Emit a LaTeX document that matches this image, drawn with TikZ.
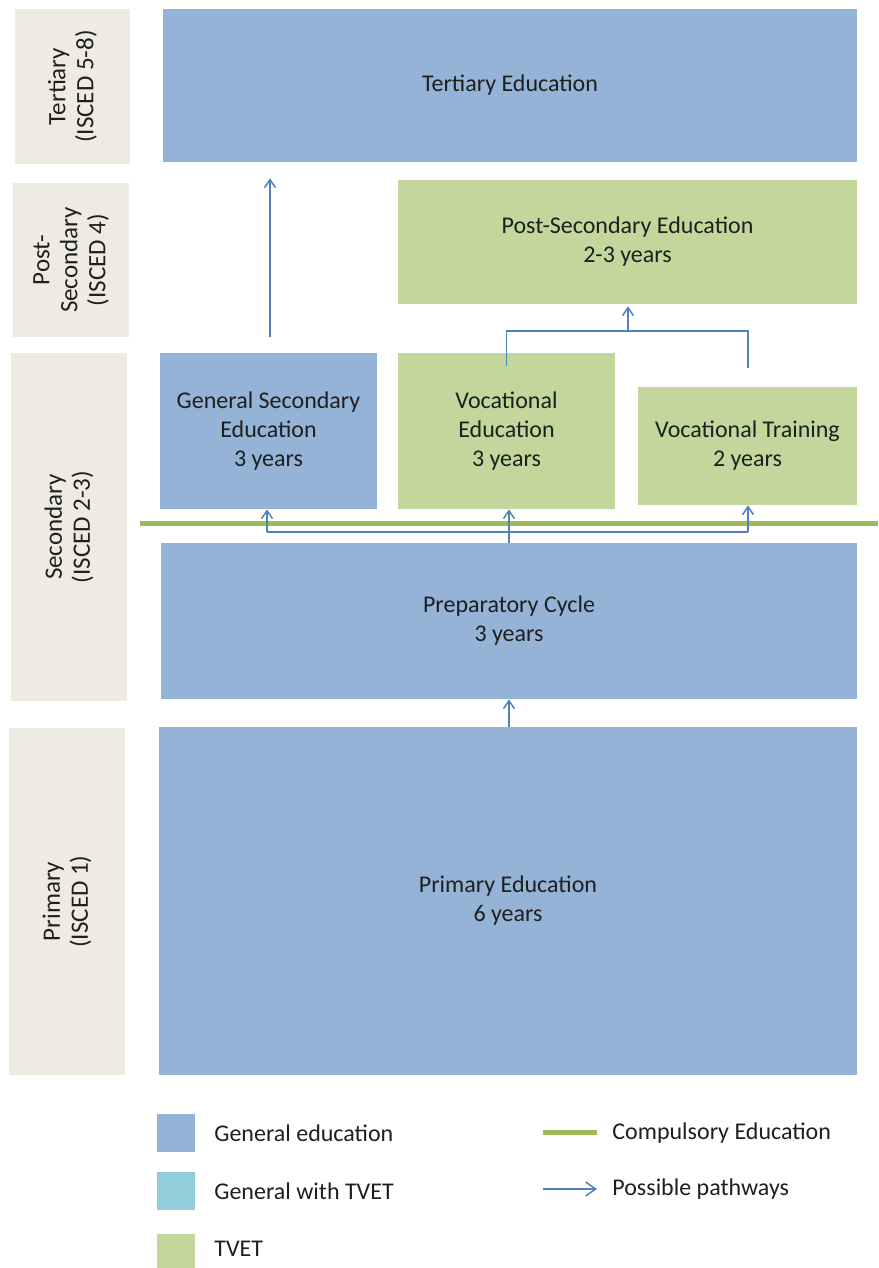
\documentclass[tikz,border=0pt]{standalone}
\usepackage{fontspec}
\setmainfont{Carlito}
\usetikzlibrary{arrows.meta}
\definecolor{genblue}{HTML}{95B3D7}
\definecolor{tvetgreen}{HTML}{C3D69B}
\definecolor{gtvet}{HTML}{92CDDC}
\definecolor{beige}{HTML}{EEECE1}
\definecolor{compgreen}{HTML}{9BBB59}
\definecolor{arrblue}{HTML}{4F81BD}
\definecolor{txt}{HTML}{1F1F1F}
\tikzset{
  box/.style={draw=none, inner sep=0pt, align=center, text=txt, font=\fontsize{12}{14.5}\selectfont},
  levelbox/.style={box, fill=beige},
  lvltxt/.style={box, rotate=90, font=\fontsize{12.5}{14}\selectfont},
  genbox/.style={box, fill=genblue},
  tvetbox/.style={box, fill=tvetgreen},
  arr/.style={draw=arrblue, line width=0.75pt, -{Straight Barb[length=4pt,width=5.5pt,line width=0.75pt]}},
  pline/.style={draw=arrblue, line width=0.75pt},
  legtxt/.style={anchor=west, inner sep=0pt, text=txt, font=\fontsize{12}{14}\selectfont},
}
\begin{document}
\begin{tikzpicture}[x=0.5pt,y=-0.5pt]
\useasboundingbox (0,0) rectangle (878,1268);
% level labels
\node[levelbox, minimum width=57.5pt, minimum height=77.5pt] (lt) at (72.5,86.5) {};
\node[lvltxt] (ltt) at (lt) {Tertiary\\(ISCED 5-8)};
\node[levelbox, minimum width=58pt, minimum height=77pt] (lp) at (71,260) {};
\node[lvltxt] (lpt) at (lp) {Post-\\Secondary\\(ISCED 4)};
\node[levelbox, minimum width=58pt, minimum height=174pt] (ls) at (69,527) {};
\node[lvltxt] (lst) at (ls) {Secondary\\(ISCED 2-3)};
\node[levelbox, minimum width=58pt, minimum height=173.5pt] (lpr) at (67,901.5) {};
\node[lvltxt] (lprt) at (lpr) {Primary\\(ISCED 1)};
% main boxes
\node[genbox, minimum width=347pt, minimum height=76.5pt] (tert) at (510,85.5) {Tertiary Education};
\node[tvetbox, minimum width=229.5pt, minimum height=62pt] (post) at (627.5,242) {Post-Secondary Education\\2-3 years};
\node[genbox, minimum width=108.5pt, minimum height=78pt] (gsec) at (268.5,431) {General Secondary\\Education\\3 years};
\node[tvetbox, minimum width=108.5pt, minimum height=78pt] (voced) at (506.5,431) {Vocational\\Education\\3 years};
\node[tvetbox, minimum width=109.5pt, minimum height=59pt] (voctr) at (747.5,446) {Vocational Training\\2 years};
\node[genbox, minimum width=348pt, minimum height=78pt] (prep) at (509,621) {Preparatory Cycle\\3 years};
\node[genbox, minimum width=349pt, minimum height=174pt] (prim) at (508,901) {Primary Education\\6 years};
% compulsory line
\coordinate (cl) at (140,523);
\coordinate (cr) at (878,523);
\draw[compgreen, line width=2.5pt] (cl) -- (cr);
% pathways
\draw[arr, shorten <=8pt, shorten >=8pt] (gsec.north -| 270,0) -- (tert.south -| 270,0);
\coordinate (b1) at (506.5,331);
\coordinate (b2) at (748,331);
\coordinate (bm) at (628,331);
\draw[pline] ([yshift=-6.5pt]voced.north) -- (b1) -- (b2) -- (748,368);
\draw[arr, shorten >=1pt] (bm) -- (post.south -| bm);
\coordinate (h1) at (267,532);
\coordinate (h2) at (748,532);
\draw[pline] (h1) -- (h2);
\draw[arr] (prep.north -| 509,0) -- (voced.south -| 509,0);
\draw[arr] (h1) -- (gsec.south -| h1);
\draw[arr] (h2) -- (voctr.south -| h2);
\draw[arr] (prim.north -| 509,0) -- (prep.south -| 509,0);
% legend
\node[genbox, minimum width=19pt, minimum height=19pt] (lg1) at (176,1133) {};
\node[box, fill=gtvet, minimum width=19pt, minimum height=19pt] (lg2) at (176,1191) {};
\node[tvetbox, minimum width=19pt, minimum height=19pt] (lg3) at (176,1253) {};
\node[legtxt] (t1) at (214,1133) {General education};
\node[legtxt] (t2) at (214,1191) {General with TVET};
\node[legtxt] (t3) at (214,1249) {TVET};
\coordinate (g1) at (543,1132);
\coordinate (g2) at (597,1132);
\draw[compgreen, line width=2.5pt] (g1) -- (g2);
\node[legtxt] (t4) at (612,1133) {Compulsory Education};
\coordinate (a1) at (543,1189);
\coordinate (a2) at (597,1189);
\draw[pline, -{Straight Barb[length=5pt,width=7pt,line width=0.75pt]}] (a1) -- (a2);
\node[legtxt] (t5) at (612,1189) {Possible pathways};
\end{tikzpicture}
\end{document}
